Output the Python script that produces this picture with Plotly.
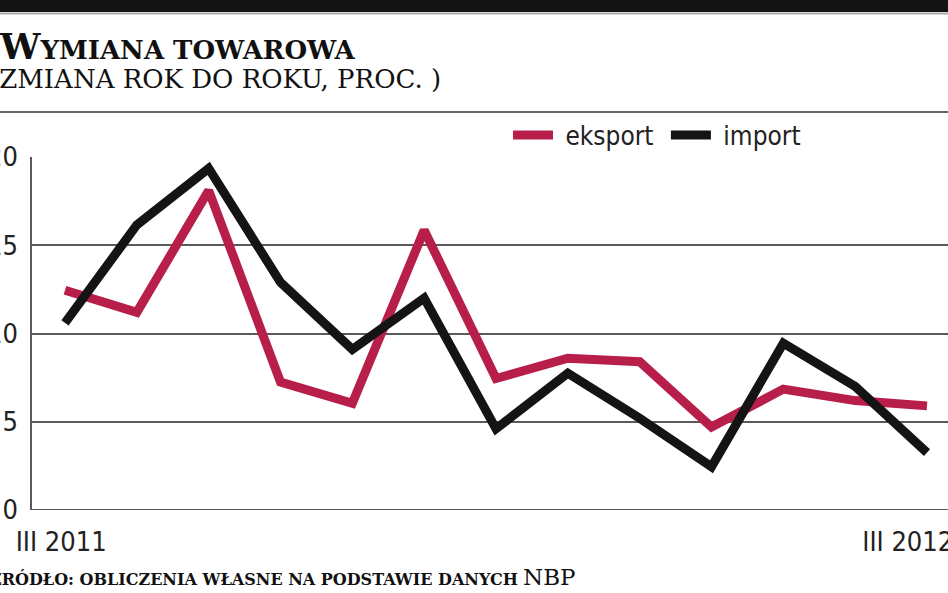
import plotly.graph_objects as go

# months III 2011 .. III 2012
months = ["III 2011", "IV 2011", "V 2011", "VI 2011", "VII 2011", "VIII 2011",
          "IX 2011", "X 2011", "XI 2011", "XII 2011", "I 2012", "II 2012", "III 2012"]
eksport = [12.45, 11.2, 18.1, 7.25, 6.05, 15.85, 7.45, 8.6, 8.4, 4.7, 6.85, 6.2, 5.9]
import_ = [10.6, 16.15, 19.35, 12.9, 9.1, 12.0, 4.6, 7.75, 5.2, 2.45, 9.45, 7.0, 3.25]
y_ticks = [0, 5, 10, 15, 20]
x_labels = ["III 2011", "III 2012"]

RED = "#b71f4a"
BLACK = "#141414"
GRID = "#5a5a5a"
SANS = "Liberation Sans Narrow, DejaVu Sans Condensed, Roboto, sans-serif"
SERIF = "DejaVu Serif, Liberation Serif, serif"
NBSP = "\u00a0"

W, H = 948, 593
L, R, T, B = 31, 0, 157, 83
plot_h = H - T - B


def py(pix):
    # pixel row -> paper y
    return (H - B - pix) / plot_h


def px_(pix):
    return (pix - L) / (W - L - R)


fig = go.Figure()
fig.add_trace(go.Scatter(x=list(range(len(months))), y=eksport, name=NBSP + "eksport" + NBSP,
                         mode="lines", line=dict(color=RED, width=9)))
fig.add_trace(go.Scatter(x=list(range(len(months))), y=import_, name=NBSP + "import",
                         mode="lines", line=dict(color=BLACK, width=9)))

fig.update_layout(
    width=W, height=H,
    margin=dict(l=L, r=R, t=T, b=B),
    plot_bgcolor="white", paper_bgcolor="white",
    font=dict(family=SANS, size=24, color="#222"),
    showlegend=True,
    legend=dict(orientation="h", x=px_(508), y=py(135), xanchor="left", yanchor="middle",
                font=dict(family=SANS, size=26, color="#222"), bgcolor="rgba(0,0,0,0)",
                itemwidth=40, tracegroupgap=0),
    shapes=[
        dict(type="rect", xref="paper", yref="paper", x0=px_(-5), x1=px_(960),
             y0=py(12), y1=py(-5), fillcolor="#141414", line=dict(width=0)),
        dict(type="line", xref="paper", yref="paper", x0=px_(-5), x1=px_(960),
             y0=py(13.5), y1=py(13.5), line=dict(color="#aaa", width=2)),
        dict(type="line", xref="paper", yref="paper", x0=px_(-5), x1=px_(960),
             y0=py(112), y1=py(112), line=dict(color="#666", width=2)),
    ],
    annotations=[
        dict(xref="paper", yref="paper", x=px_(-3), y=py(46), xanchor="left", yanchor="middle",
             showarrow=False, font=dict(family=SERIF, size=26, color="#111"),
             text="<b><span style='font-size:36px'>W</span>YMIANA TOWAROWA</b>"),
        dict(xref="paper", yref="paper", x=px_(-13), y=py(79), xanchor="left", yanchor="middle",
             showarrow=False, font=dict(family=SERIF, size=26, color="#111"),
             text="(ZMIANA ROK DO ROKU, PROC. )"),
        dict(xref="paper", yref="paper", x=px_(-12), y=py(577), xanchor="left", yanchor="middle",
             showarrow=False, font=dict(family=SERIF, size=16, color="#111"),
             text="<b>ŹRÓDŁO: OBLICZENIA WŁASNE NA PODSTAWIE DANYCH</b> "
                  "<span style='font-size:23px'>NBP</span>"),
    ],
)

fig.update_xaxes(
    range=[-(65 - L) / 71.83, 12 + (W - 927) / 71.83],
    tickvals=[0, len(months) - 1],
    ticktext=[x_labels[0] + NBSP, x_labels[1] + NBSP * 5],
    showgrid=False, zeroline=False, showline=False, ticks="",
    ticklabelstandoff=13, automargin=False, ticklabeloverflow="allow",
    tickfont=dict(family=SANS, size=27, color="#222"),
)
fig.update_yaxes(
    range=[0, 20], tickvals=y_ticks,
    showgrid=True, gridcolor=GRID, gridwidth=2, zeroline=False,
    showline=False, ticks="", ticklabelstandoff=12, automargin=False,
    ticklabeloverflow="allow",
    tickfont=dict(family=SANS, size=27, color="#222"),
)
# left frame line and base line
fig.add_shape(type="line", xref="paper", yref="paper", x0=0, x1=0, y0=0, y1=1,
              line=dict(color=GRID, width=2))
fig.add_shape(type="line", xref="paper", yref="y", x0=0, x1=1, y0=0, y1=0,
              line=dict(color=GRID, width=2))

fig.write_html("out.html", config={"displayModeBar": False},
               post_script="document.body.style.margin='0';")
